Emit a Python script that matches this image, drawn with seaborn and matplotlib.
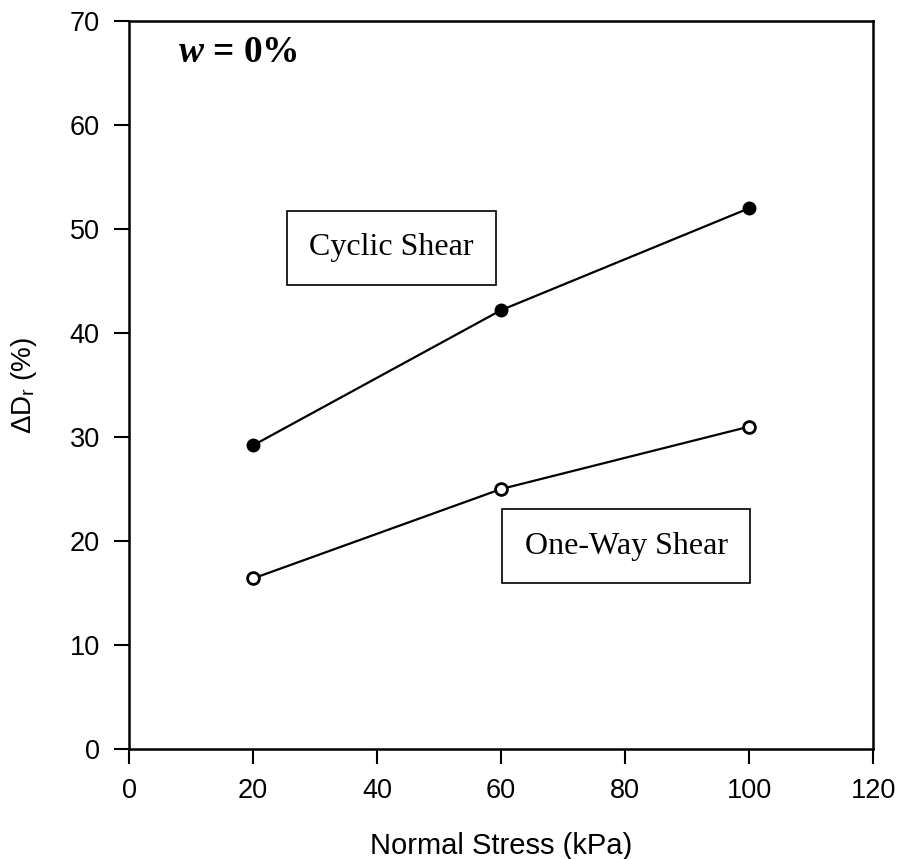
import pandas as pd
import seaborn as sns
import matplotlib.pyplot as plt

stress = [20, 60, 100]
cyclic = [29.2, 42.2, 52.0]
one_way = [16.4, 25.0, 31.0]
x_ticks = [0, 20, 40, 60, 80, 100, 120]
y_ticks = [0, 10, 20, 30, 40, 50, 60, 70]

df = pd.DataFrame({
    "Normal Stress (kPa)": stress * 2,
    "dDr": cyclic + one_way,
    "Test": ["Cyclic Shear"] * 3 + ["One-Way Shear"] * 3,
})

sns.set_style("ticks")
plt.rcParams["font.family"] = ["Liberation Sans", "DejaVu Sans"]
plt.rcParams["mathtext.fontset"] = "custom"
plt.rcParams["mathtext.it"] = "Liberation Serif:italic:bold"
plt.rcParams["mathtext.rm"] = "Liberation Sans"
plt.rcParams["text.color"] = "black"
plt.rcParams["axes.labelcolor"] = "black"

fig = plt.figure(figsize=(9.03, 8.59), dpi=100)
ax = fig.add_axes([0.1429, 0.128, 0.824, 0.8475])

# cyclic = filled, one-way = open circles
sns.lineplot(data=df[df["Test"] == "Cyclic Shear"], x="Normal Stress (kPa)", y="dDr",
             color="black", lw=1.6, marker="o", markersize=9, markerfacecolor="black",
             markeredgecolor="black", markeredgewidth=1, ax=ax)
sns.lineplot(data=df[df["Test"] == "One-Way Shear"], x="Normal Stress (kPa)", y="dDr",
             color="black", lw=1.6, marker="o", markersize=8.5, markerfacecolor="white",
             markeredgecolor="black", markeredgewidth=2, ax=ax)

ax.set_xlim(0, 120)
ax.set_ylim(0, 70)
ax.set_xticks(x_ticks)
ax.set_yticks(y_ticks)
ax.tick_params(axis="both", direction="out", length=11, width=1.5, pad=10,
               labelsize=19.5, colors="black")
for s in ax.spines.values():
    s.set_linewidth(1.8)
    s.set_color("black")

ax.set_xlabel("Normal Stress (kPa)", fontsize=21, labelpad=20)
ax.set_ylabel(r"ΔD$_{\mathrm{r}}$ (%)", fontsize=20, labelpad=22)

box = dict(boxstyle="square,pad=0.7", fc="white", ec="black", lw=1.2)
ax.text(42.3, 48.2, "Cyclic Shear", family="Liberation Serif", fontsize=23,
        ha="center", va="center", bbox=box)
ax.text(80.2, 19.5, "One-Way Shear", family="Liberation Serif", fontsize=23,
        ha="center", va="center", bbox=box)
ax.text(7.9, 67.0, r"$w$ = 0%", family="Liberation Serif", fontweight="bold",
        fontsize=27, ha="left", va="center")

fig.savefig("out.png", dpi=100, facecolor="white")
